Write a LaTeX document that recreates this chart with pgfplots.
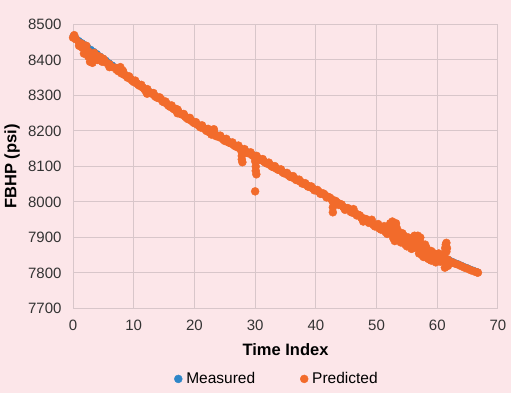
\documentclass[border=0pt]{standalone}
\usepackage{fontspec}
\setmainfont{Liberation Sans}
\usepackage{pgfplots}
\pgfplotsset{compat=1.18}
\definecolor{bgpink}{HTML}{FCE6E9}
\definecolor{gridc}{HTML}{D8C6CA}
\definecolor{mblue}{HTML}{2E86C8}
\definecolor{porange}{HTML}{F26B2B}
\definecolor{tickc}{HTML}{333333}
\begin{document}
\begin{tikzpicture}
\fill[bgpink] (0pt,0pt) rectangle (511pt,393pt);
\begin{axis}[
 at={(73pt,84.5pt)}, anchor=south west,
 scale only axis, width=425pt, height=284pt,
 xmin=0, xmax=70, ymin=7700, ymax=8500,
 xtick={0,10,...,70}, ytick={7700,7800,...,8500},
 grid=major, grid style={draw=gridc, line width=1pt},
 axis line style={draw=gridc, line width=1pt},
 major tick length=0pt,
 tick label style={font=\fontsize{15}{18}\selectfont, text=tickc},
 /pgf/number format/assume math mode=true,
 /pgf/number format/set thousands separator={},
 xticklabel style={yshift=-8pt},
 yticklabel style={xshift=-8pt},
 xlabel={Time Index}, ylabel={FBHP (psi)},
 label style={font=\bfseries\fontsize{16.5}{20}\selectfont},
 xlabel style={at={(axis description cs:0.5,-0.146)}, anchor=center},
 ylabel style={at={(axis description cs:-0.1435,0.5)}, anchor=center},
 clip=false,
 legend style={at={(axis description cs:0.48,-0.248)}, anchor=center, draw=none, fill=none,
   font=\fontsize{15.5}{18}\selectfont, /tikz/every even column/.append style={column sep=43pt}},
 legend columns=2,
 legend image code/.code={\path[draw=none,fill=none] (-4pt,0pt) rectangle (6pt,0.1pt); \draw[#1,mark size=4pt] plot coordinates {(0pt,0pt)};},
]
\addplot[only marks, mark=*, mark size=3.2pt, color=mblue] coordinates {
(0,8468)(0.5,8462)(1,8455)(1.5,8449)(2,8443)(2.5,8436)(3,8430)(3.5,8424)(4,8418)(4.5,8411)
(5,8405)(5.5,8399)(6,8392)(6.5,8386)(7,8380)(7.5,8374)(8,8367)(8.5,8361)(9,8355)(9.5,8348)
(10,8342)(10.5,8336)(11,8330)(11.5,8324)(12,8318)(12.5,8313)(13,8307)(13.5,8301)(14,8295)(14.5,8289)
(15,8283)(15.5,8277)(16,8272)(16.5,8266)(17,8260)(17.5,8254)(18,8248)(18.5,8242)(19,8237)(19.5,8231)
(20,8225)(20.5,8220)(21,8215)(21.5,8211)(22,8206)(22.5,8201)(23,8196)(23.5,8192)(24,8187)(24.5,8182)
(25,8177)(25.5,8173)(26,8168)(26.5,8163)(27,8158)(27.5,8154)(28,8149)(28.5,8144)(29,8139)(29.5,8135)
(30,8130)(30.5,8125)(31,8120)(31.5,8116)(32,8111)(32.5,8106)(33,8101)(33.5,8096)(34,8092)(34.5,8087)
(35,8082)(35.5,8077)(36,8072)(36.5,8068)(37,8063)(37.5,8058)(38,8053)(38.5,8048)(39,8044)(39.5,8039)
(40,8034)(40.5,8029)(41,8024)(41.5,8019)(42,8013)(42.5,8008)(43,8003)(43.5,7998)(44,7993)(44.5,7988)
(45,7983)(45.5,7978)(46,7973)(46.5,7968)(47,7962)(47.5,7957)(48,7952)(48.5,7947)(49,7942)(49.5,7937)
(50,7932)(50.5,7928)(51,7924)(51.5,7920)(52,7916)(52.5,7912)(53,7908)(53.5,7904)(54,7899)(54.5,7895)
(55,7891)(55.5,7887)(56,7883)(56.5,7879)(57,7875)(57.5,7871)(58,7867)(58.5,7863)(59,7859)(59.5,7855)
(60,7851)(60.5,7847)(61,7844)(61.5,7840)(62,7837)(62.5,7833)(63,7829)(63.5,7826)(64,7822)(64.5,7818)
(65,7815)(65.5,7811)(66,7808)(66.5,7804)(66.7,7803)
};
\addlegendentry{Measured}
\addplot[only marks, mark=*, mark size=4pt, color=porange] coordinates {
(0,8463)(0.5,8458)(1,8449)(1.5,8435)(2,8428)(2.5,8410)(3,8398)(3.5,8405)(4,8412)(4.5,8400)
(5,8403)(5.5,8392)(6,8388)(6.5,8380)(7,8378)(7.5,8368)(8,8362)(8.5,8358)(9,8350)(9.5,8346)
(10,8338)(10.5,8334)(11,8327)(11.5,8322)(12,8312)(12.5,8308)(13,8305)(13.5,8298)(14,8293)(14.5,8290)
(15,8281)(15.5,8276)(16,8268)(16.5,8263)(17,8262)(17.5,8250)(18,8246)(18.5,8240)(19,8233)(19.5,8229)
(20,8222)(20.5,8218)(21,8210)(21.5,8208)(22,8200)(22.5,8196)(23,8198)(23.5,8186)(24,8183)(24.5,8180)
(25,8172)(25.5,8169)(26,8165)(26.5,8160)(27,8155)(27.5,8150)(28,8145)(28.5,8140)(29,8137)(29.5,8132)
(30,8128)(30.5,8122)(31,8118)(31.5,8113)(32,8108)(32.5,8104)(33,8098)(33.5,8094)(34,8090)(34.5,8084)
(35,8080)(35.5,8075)(36,8070)(36.5,8066)(37,8061)(37.5,8057)(38,8052)(38.5,8047)(39,8043)(39.5,8038)
(40,8033)(40.5,8029)(41,8024)(41.5,8020)(42,8014)(42.5,8009)(43,8004)(43.5,7999)(44,7994)(44.5,7986)
(45,7982)(45.5,7980)(46,7970)(46.5,7968)(47,7964)(47.5,7955)(48,7953)(48.5,7945)(49,7944)(49.5,7935)
(50,7934)(50.5,7925)(51,7928)(51.5,7915)(52,7928)(52.5,7935)(53,7890)(53.5,7920)(54,7886)(54.5,7905)
(55,7875)(55.5,7895)(56,7870)(56.5,7900)(57,7895)(57.5,7850)(58,7880)(58.5,7840)(59,7835)(59.5,7845)
(60,7840)(60.5,7832)(61,7850)(61.5,7885)(62,7826)(62.5,7830)(63,7826)(63.5,7823)(64,7819)(64.5,7815)
(65,7812)(65.5,7808)(66,7805)(66.5,7802)(66.7,7801)
(8.25,8367)(8.75,8355)(9.25,8354)(9.75,8342)(10.25,8342)(10.75,8330)(11.25,8330)(11.75,8318)
(12.25,8318)(12.75,8307)(13.25,8307)(13.75,8295)(14.25,8295)(14.75,8283)(15.25,8283)(15.75,8271)
(16.25,8272)(16.75,8260)(17.25,8260)(17.75,8248)(18.25,8248)(18.75,8236)(19.25,8237)(19.75,8225)
(20.25,8225)(20.75,8214)(21.25,8216)(21.75,8205)(22.25,8206)(22.75,8195)(23.25,8197)(23.75,8186)
(24.25,8187)(24.75,8176)(25.25,8178)(25.75,8167)(26.25,8168)(26.75,8157)(27.25,8159)(27.75,8148)
(28.25,8149)(28.75,8138)(29.25,8140)(29.75,8129)(30.25,8130)(30.75,8119)(31.25,8121)(31.75,8110)
(32.25,8111)(32.75,8100)(33.25,8101)(33.75,8091)(34.25,8092)(34.75,8081)(35.25,8082)(35.75,8071)
(36.25,8073)(36.75,8062)(37.25,8063)(37.75,8052)(38.25,8053)(38.75,8043)(39.25,8044)(39.75,8033)
(40.25,8034)(40.75,8023)(41.25,8024)(41.75,8013)(42.25,8013)(42.75,8002)(43.25,8003)(43.75,7992)
(44.25,7993)(44.75,7982)(45.25,7983)(45.75,7972)(46.25,7973)(46.75,7962)(47.25,7962)(47.75,7951)
(48.25,7952)(48.75,7941)(49.25,7942)(49.75,7931)
(50.25,7938)(50.75,7922)(51.25,7932)(51.75,7910)(52.25,7940)(52.75,7898)(53.25,7930)(53.75,7895)
(54.25,7912)(54.75,7880)(55.25,7900)(55.75,7868)(56.25,7905)(56.75,7872)(57.25,7885)(57.75,7845)
(58.25,7870)(58.75,7838)(59.25,7850)(59.75,7830)(60.25,7855)(60.75,7838)(61.25,7815)(61.4,7880)
(61.6,7870)(61.75,7820)(58,7845)(59,7862)(57,7855)
(50.25,7930)(50.75,7926)(51.25,7922)(51.75,7918)(52.25,7914)(52.75,7910)(53.25,7906)(53.75,7902)
(54.25,7897)(54.75,7893)(55.25,7889)(55.75,7885)(56.25,7881)(56.75,7877)(57.25,7873)(57.75,7869)
(58.25,7865)(58.75,7861)(59.25,7857)(59.75,7853)(60.25,7849)(60.75,7845)(61.25,7842)(61.75,7838)
(52.5,7925)(53,7918)(53.5,7893)(54,7910)(54.5,7885)(55,7900)(55.5,7878)(56,7892)(56.5,7885)
(57,7865)(57.5,7880)(58,7855)(58.5,7855)(59,7848)(59.5,7840)(60,7848)(60.5,7840)(61,7835)
(61.5,7860)(61.5,7825)(61.3,7870)(56.8,7905)(57.2,7900)(53.2,7940)(52.6,7945)
(27.8,8140)(27.8,8130)(27.8,8120)(27.9,8112)(30,8115)(30.1,8100)(30.1,8088)(30.2,8078)(30,8030)
(42.8,7985)(42.8,7971)
(2.8,8395)(3.2,8392)(1.8,8418)(4.8,8395)(7.8,8380)(2.2,8440)(0.2,8470)
(1,8440)(1.5,8445)(2,8435)(2.5,8425)(3,8415)(3.5,8420)(4,8400)(4.5,8408)(5.2,8398)(6,8380)(7.2,8372)(8.2,8370)
(44.8,7978)(46.2,7980)(47.8,7945)(49.2,7950)(17.2,8250)(12.2,8305)(22.8,8190)(23.2,8205)
};
\addlegendentry{Predicted}
\end{axis}
\pgfresetboundingbox
\useasboundingbox (0pt,0pt) rectangle (511pt,393pt);
\end{tikzpicture}
\end{document}
